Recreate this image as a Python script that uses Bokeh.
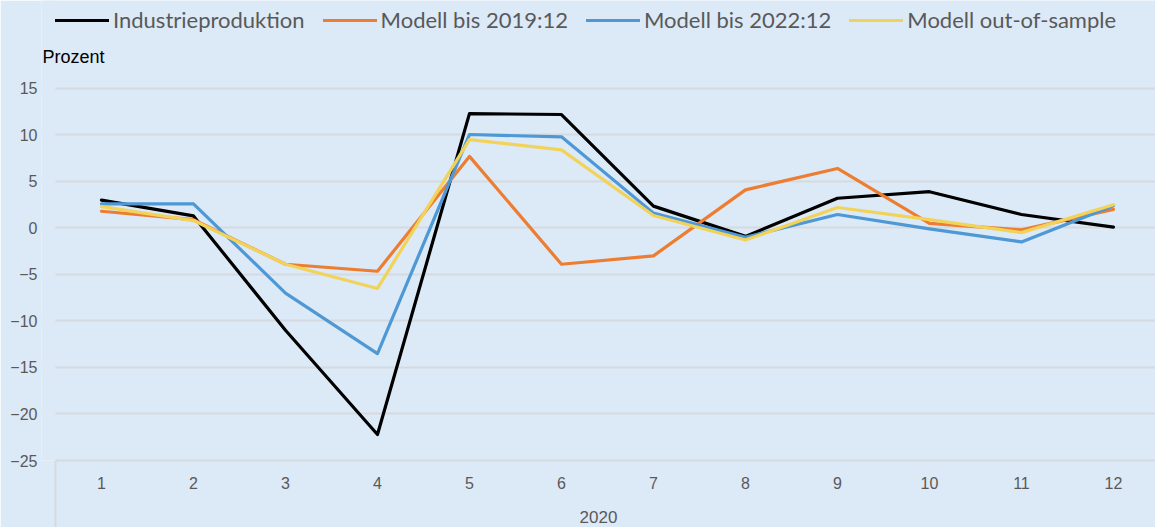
from bokeh.plotting import figure
from bokeh.models import (Range1d, FixedTicker, Legend, LegendItem, Label,
                          ColumnDataSource, BoxAnnotation)
from bokeh.embed import file_html
from bokeh.resources import INLINE

months = list(range(1, 13))
year_label = "2020"
industrie = [3.0, 1.3, -11.0, -22.2, 12.3, 12.2, 2.35, -0.9, 3.2, 3.9, 1.45, 0.1]
modell_2019 = [1.8, 0.9, -3.9, -4.65, 7.7, -3.9, -3.0, 4.1, 6.4, 0.5, -0.2, 2.0]
modell_2022 = [2.6, 2.6, -7.0, -13.5, 10.05, 9.8, 1.6, -1.0, 1.45, -0.1, -1.5, 2.4]
modell_oos = [2.3, 0.8, -3.9, -6.5, 9.5, 8.4, 1.35, -1.3, 2.2, 0.9, -0.5, 2.5]
y_ticks = [-25, -20, -15, -10, -5, 0, 5, 10, 15]

series = [
    ("Industrieproduktion", industrie, "#000000"),
    ("Modell bis 2019:12", modell_2019, "#ED7D31"),
    ("Modell bis 2022:12", modell_2022, "#4E98D6"),
    ("Modell out-of-sample", modell_oos, "#F2D35A"),
]

BG = "#DCE9F7"
GRID = "#D6DAE0"
TXT = "#595959"

p = figure(width=1155, height=527, output_backend="svg", toolbar_location=None,
           x_range=Range1d(0.348, 12.457), y_range=Range1d(-25, 24.46),
           min_border_left=41, min_border_right=0, min_border_top=0, min_border_bottom=67)
p.background_fill_color = BG
p.border_fill_color = BG
p.outline_line_color = None

# y axis
p.yaxis.ticker = FixedTicker(ticks=y_ticks)
p.yaxis.axis_line_color = None
p.yaxis.major_tick_line_color = None
p.yaxis.minor_tick_line_color = None
p.yaxis.major_tick_out = 0
p.yaxis.major_tick_in = 0
p.yaxis.minor_tick_out = 0
p.yaxis.minor_tick_in = 0
p.yaxis.major_label_standoff = 4
p.yaxis.major_label_text_font = "Liberation Sans"
p.yaxis.major_label_text_font_size = "16px"
p.yaxis.major_label_text_color = TXT
p.ygrid.ticker = FixedTicker(ticks=y_ticks)
p.ygrid.grid_line_color = GRID
p.ygrid.grid_line_width = 2
p.xgrid.grid_line_color = None

# x axis
p.xaxis.ticker = FixedTicker(ticks=months, minor_ticks=[0.5, 12.5])
p.xaxis.bounds = (0.5, 12.5)
p.xaxis.axis_line_color = GRID
p.xaxis.axis_line_width = 2
p.xaxis.major_tick_line_color = None
p.xaxis.major_tick_out = 0
p.xaxis.major_tick_in = 0
p.xaxis.minor_tick_line_color = GRID
p.xaxis.minor_tick_line_width = 2
p.xaxis.minor_tick_in = 0
p.xaxis.minor_tick_out = 67
p.xaxis.major_label_standoff = -51
p.xaxis.major_label_text_font = "Liberation Sans"
p.xaxis.major_label_text_font_size = "16px"
p.xaxis.major_label_text_color = TXT
p.xaxis.axis_label = year_label
p.xaxis.axis_label_text_font = "Liberation Sans"
p.xaxis.axis_label_text_font_size = "17px"
p.xaxis.axis_label_text_font_style = "normal"
p.xaxis.axis_label_text_color = TXT
p.xaxis.axis_label_standoff = 19

# blank strip left of the category area (hides grid lines there)
p.add_layout(BoxAnnotation(right=0.5, fill_color=BG, fill_alpha=1.0, line_color=None))

items = []
for name, vals, col in series:
    src = ColumnDataSource(dict(x=months, y=vals))
    r = p.line("x", "y", source=src, line_color=col, line_width=3.2,
               line_join="round", line_cap="round")
    items.append(LegendItem(label=name, renderers=[r]))

legend = Legend(items=items, location=(14, 427), orientation="horizontal",
                background_fill_alpha=0, border_line_color=None,
                label_text_font="Lato", label_text_font_size="22px",
                label_text_color=TXT, glyph_width=54, glyph_height=20,
                label_standoff=4, spacing=18, padding=3, margin=0)
p.add_layout(legend)

p.add_layout(Label(x=0.5, y=15, x_offset=-13, y_offset=31, text="Prozent",
                   text_font="Liberation Sans", text_font_size="18px",
                   text_color="#000000", text_baseline="middle"))

open("out.html", "w").write(file_html(p, INLINE))
